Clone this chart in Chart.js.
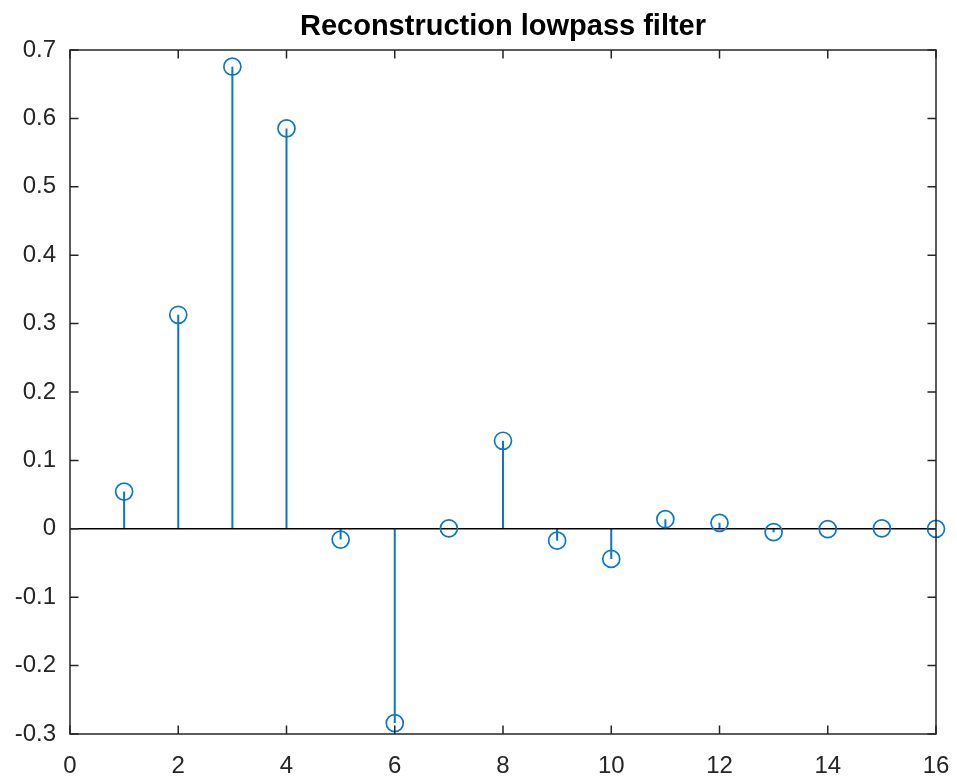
<!DOCTYPE html>
<html><head><meta charset="utf-8">
<script src="https://cdn.jsdelivr.net/npm/chart.js@4/dist/chart.umd.min.js"></script>
<style>html,body{margin:0;padding:0;background:#fff}#wrap{width:957px;height:780px}</style>
</head><body><div id="wrap"><canvas id="c" width="957" height="780"></canvas></div>
<script>
const titleText = 'Reconstruction lowpass filter';
const indices = [1,2,3,4,5,6,7,8,9,10,11,12,13,14,15,16];
const coeffs = [0.0544,0.3129,0.6756,0.5854,-0.0158,-0.2840,0.0005,0.1287,-0.0174,-0.0441,0.0140,0.0087,-0.0049,-0.0004,0.0007,-0.0001];
const xTicks = [0,2,4,6,8,10,12,14,16];
const yTicks = [-0.3,-0.2,-0.1,0,0.1,0.2,0.3,0.4,0.5,0.6,0.7];

const BLUE = '#0a78c6';
const AXC = '#262626';
const FONT = 'Liberation Sans, Arial, Helvetica, sans-serif';

const stemData = [];
indices.forEach((x,i)=>{ stemData.push({x:x,y:0},{x:x,y:coeffs[i]},{x:x,y:null}); });
const markerData = indices.map((x,i)=>({x:x,y:coeffs[i]}));
const baseData = [{x:xTicks[0],y:0},{x:xTicks[xTicks.length-1],y:0}];

const boxPlugin = {
  id:'box',
  afterDraw(chart){
    const ctx = chart.ctx, a = chart.chartArea;
    const xs = chart.scales.x, ys = chart.scales.y;
    const TL = 8.5;
    ctx.save();
    ctx.strokeStyle = AXC; ctx.lineWidth = 1.5;
    ctx.beginPath();
    xTicks.forEach(v=>{
      const p = xs.getPixelForValue(v);
      ctx.moveTo(p,a.bottom); ctx.lineTo(p,a.bottom-TL);
      ctx.moveTo(p,a.top); ctx.lineTo(p,a.top+TL);
    });
    yTicks.forEach(v=>{
      const p = ys.getPixelForValue(v);
      ctx.moveTo(a.left,p); ctx.lineTo(a.left+TL,p);
      ctx.moveTo(a.right,p); ctx.lineTo(a.right-TL,p);
    });
    ctx.stroke();
    ctx.strokeRect(a.left,a.top,a.right-a.left,a.bottom-a.top);
    ctx.restore();
  }
};

new Chart(document.getElementById('c'),{
  type:'scatter',
  data:{datasets:[
    {data:markerData,showLine:false,pointStyle:'circle',pointRadius:8.5,pointBorderWidth:1.7,
     pointBorderColor:BLUE,pointBackgroundColor:'rgba(0,0,0,0)',borderColor:BLUE,clip:false},
    {data:baseData,showLine:true,borderColor:'#000',borderWidth:1.6,pointRadius:0},
    {data:stemData,showLine:true,spanGaps:false,borderColor:BLUE,borderWidth:2,pointRadius:0}
  ]},
  options:{
    responsive:false,animation:false,devicePixelRatio:1,
    layout:{padding:{left:0,right:21,top:0,bottom:0}},
    plugins:{
      legend:{display:false},tooltip:{enabled:false},
      title:{display:true,text:titleText,fullSize:false,color:'#000',
        font:{family:FONT,size:29,weight:'bold',lineHeight:1.2},padding:{top:10,bottom:5.2}}
    },
    scales:{
      x:{type:'linear',min:0,max:16,
        afterFit(s){s.height=46;s.paddingLeft=0;s.paddingRight=0;},
        afterBuildTicks(s){s.ticks=xTicks.map(v=>({value:v}));},
        grid:{display:false,drawTicks:false},border:{display:false},
        ticks:{color:AXC,font:{family:FONT,size:24},padding:18,maxRotation:0,autoSkip:false,
          callback:v=>String(v)}},
      y:{type:'linear',min:-0.3,max:0.7,
        afterFit(s){s.width=70;s.paddingTop=0;s.paddingBottom=0;},
        afterBuildTicks(s){s.ticks=yTicks.map(v=>({value:v}));},
        grid:{display:false,drawTicks:false},border:{display:false},
        ticks:{color:AXC,font:{family:FONT,size:24},padding:14,autoSkip:false,
          callback:v=>Math.abs(v)<1e-9?'0':Number(v).toFixed(1)}}
    }
  },
  plugins:[boxPlugin]
});
</script>
</body></html>
